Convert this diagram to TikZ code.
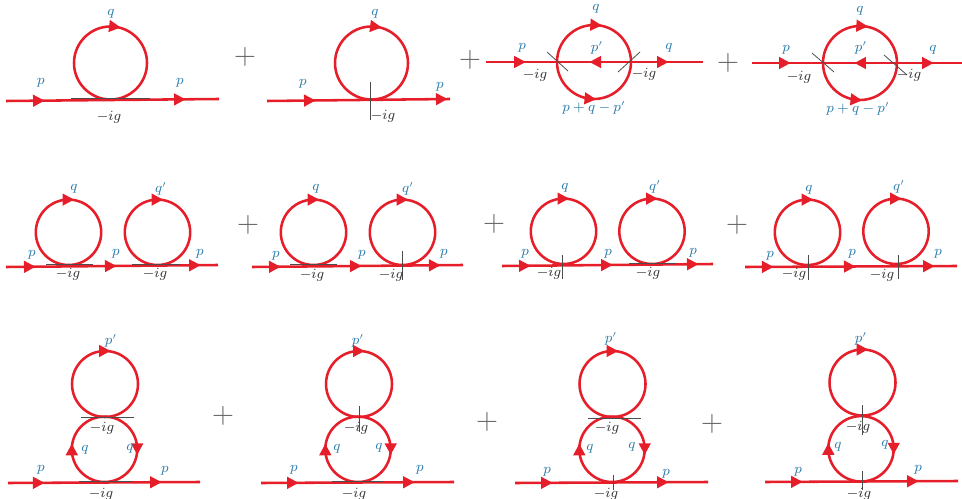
\documentclass[tikz,border=0pt]{standalone}
\usepackage{amsmath}
\usetikzlibrary{arrows.meta, decorations.markings}
\definecolor{loopred}{RGB}{230,30,42}
\definecolor{mombl}{RGB}{44,124,170}

\begin{document}
\begin{tikzpicture}[
    x=0.02cm,
    y=-0.02cm,
    fermion/.style={
        draw=loopred,
        line width=1.45pt
    },
    flow/.style={
        postaction={
            decorate,
            decoration={
                markings,
                mark=at position #1 with {\arrow[xshift=3.2pt,loopred]{Triangle[length=6.6pt,width=6.6pt]}}
            }
        }
    },
    vertexbar/.style={
        draw=black!70,
        line width=0.45pt
    },
    mom/.style={
        text=mombl,
        font=\fontsize{7.6}{9}\selectfont,
        inner sep=0pt
    },
    coupling/.style={
        text=black!80,
        font=\fontsize{7.6}{9}\selectfont,
        inner sep=0pt
    },
    plussign/.style={
        text=black!60,
        font=\fontsize{16}{16}\selectfont,
        inner sep=0pt
    }
]

\useasboundingbox (0,0) rectangle (962,499);

% first row
\coordinate (in1) at (6,101);
\coordinate (out1) at (219,99);
\coordinate (v1) at (110.5,99.5);
\draw[fermion, flow=.155, flow=.817] (in1) -- (out1);
\draw[fermion, flow=.52] (v1) arc[start angle=90, delta angle=360, radius=36.5];

\coordinate (in2) at (267,101);
\coordinate (out2) at (450,99);
\coordinate (v2) at (371.5,99.5);
\draw[fermion, flow=.235, flow=.956] (in2) -- (out2);
\draw[fermion, flow=.52] (v2) arc[start angle=90, delta angle=360, radius=36.5];

\coordinate (in3) at (486,62);
\coordinate (out3) at (703,62);
\coordinate (l3) at (557,62);
\coordinate (r3) at (631,62);
\draw[fermion, flow=.48] (in3) -- (l3);
\draw[fermion, flow=.486] (r3) -- (l3);
\draw[fermion, flow=.444] (r3) -- (out3);
\draw[fermion, flow=.52] (l3) arc[start angle=180, delta angle=180, radius=37];
\draw[fermion, flow=.47] (l3) arc[start angle=180, delta angle=-180, radius=37];

\coordinate (in4) at (752,63);
\coordinate (out4) at (962,63);
\coordinate (l4) at (823,63);
\coordinate (r4) at (897,63);
\draw[fermion, flow=.465] (in4) -- (l4);
\draw[fermion, flow=.5] (r4) -- (l4);
\draw[fermion, flow=.477] (r4) -- (out4);
\draw[fermion, flow=.52] (l4) arc[start angle=180, delta angle=180, radius=37];
\draw[fermion, flow=.47] (l4) arc[start angle=180, delta angle=-180, radius=37];

% second row
\coordinate (in5) at (6,267);
\coordinate (out5) at (218,265);
\coordinate (v5a) at (68.5,265);
\coordinate (v5b) at (157.5,265);
\draw[fermion, flow=.113, flow=.495, flow=.892] (in5) -- (out5);
\draw[fermion, flow=.5] (v5a) arc[start angle=90, delta angle=360, radius=32.7];
\draw[fermion, flow=.5] (v5b) arc[start angle=90, delta angle=360, radius=32.7];

\coordinate (in6) at (252,267);
\coordinate (out6) at (463,265);
\coordinate (v6a) at (313.5,265);
\coordinate (v6b) at (402.5,265);
\draw[fermion, flow=.109, flow=.493, flow=.867] (in6) -- (out6);
\draw[fermion, flow=.5] (v6a) arc[start angle=90, delta angle=360, radius=32.7];
\draw[fermion, flow=.5] (v6b) arc[start angle=90, delta angle=360, radius=32.7];

\coordinate (in7) at (502,266);
\coordinate (out7) at (713,264);
\coordinate (v7a) at (563.5,264);
\coordinate (v7b) at (652,264);
\draw[fermion, flow=.109, flow=.498, flow=.905] (in7) -- (out7);
\draw[fermion, flow=.5] (v7a) arc[start angle=90, delta angle=360, radius=32.7];
\draw[fermion, flow=.5] (v7b) arc[start angle=90, delta angle=360, radius=32.7];

\coordinate (in8) at (745,267);
\coordinate (out8) at (957,266);
\coordinate (v8a) at (807.5,265);
\coordinate (v8b) at (896,264);
\draw[fermion, flow=.108, flow=.495, flow=.868] (in8) -- (out8);
\draw[fermion, flow=.5] (v8a) arc[start angle=90, delta angle=360, radius=32.7];
\draw[fermion, flow=.5] (v8b) arc[start angle=90, delta angle=360, radius=32.7];

% third row
\coordinate (in9) at (8,483);
\coordinate (out9) at (200,482);
\coordinate (v9a) at (104.5,482);
\coordinate (v9b) at (105,417);
\draw[fermion, flow=.161, flow=.771] (in9) -- (out9);
\draw[fermion, flow=.25, flow=.75] (v9a) arc[start angle=90, delta angle=360, radius=32.7];
\draw[fermion, flow=.5] (v9b) arc[start angle=90, delta angle=360, radius=33];

\coordinate (in10) at (261,483);
\coordinate (out10) at (454,482);
\coordinate (v10a) at (358,482);
\coordinate (v10b) at (359,417);
\draw[fermion, flow=.166, flow=.767] (in10) -- (out10);
\draw[fermion, flow=.25, flow=.75] (v10a) arc[start angle=90, delta angle=360, radius=32.7];
\draw[fermion, flow=.5] (v10b) arc[start angle=90, delta angle=360, radius=33];

\coordinate (in11) at (515,483);
\coordinate (out11) at (708,482);
\coordinate (v11a) at (612,482);
\coordinate (v11b) at (612.5,417);
\draw[fermion, flow=.166, flow=.767] (in11) -- (out11);
\draw[fermion, flow=.25, flow=.75] (v11a) arc[start angle=90, delta angle=360, radius=32.7];
\draw[fermion, flow=.5] (v11b) arc[start angle=90, delta angle=360, radius=33];

\coordinate (in12) at (765,482);
\coordinate (out12) at (958,481);
\coordinate (v12a) at (861,481.5);
\coordinate (v12b) at (862.5,415.5);
\draw[fermion, flow=.166, flow=.767] (in12) -- (out12);
\draw[fermion, flow=.25, flow=.75] (v12a) arc[start angle=90, delta angle=360, radius=32.7];
\draw[fermion, flow=.5] (v12b) arc[start angle=90, delta angle=360, radius=33];

% vertex bars and ticks
\foreach \tick/\xa/\ya/\xb/\yb in {
    t1/71/98/150/98, t2/370/82/370/120,
    t3a/547/52/568/71, t3b/640/52/618/72, t4a/812/53/834/72, t4b/884/55/907/75,
    t5a/46/264/93/264, t5b/132/264/180/264,
    t6a/290/264/337/264, t6b/402/251/402/280,
    t7a/562/255/562/279, t7b/629/263/676/263,
    t8a/808/255/808/280, t8b/898/255/898/279,
    t9a/81/417/134/417, t9b/79/481/132/481,
    t10a/359/406/359/432, t10b/332/481/383/481,
    t11a/588/418/641/418, t11b/613/475/613/490,
    t12a/862/405/862/435, t12b/862/471/862/490} {
    \coordinate (\tick s) at (\xa,\ya);
    \coordinate (\tick e) at (\xb,\yb);
    \draw[vertexbar] (\tick s) -- (\tick e);
}

% momenta
\foreach \lab/\x/\y/\txt in {
    m1/111/14/{$q$}, m2/41/83/{$p$}, m3/180/83/{$p$},
    m4/375/14/{$q$}, m5/303/84/{$p$}, m6/440/87/{$p$},
    m7/596/9/{$q$}, m8/522/48/{$p$}, m9/597/48/{$p'$}, m10/669/48/{$q$}, m11/594/108/{$p+q-p'$},
    m12/860/11/{$q$}, m13/786/50/{$p$}, m14/861/48/{$p'$}, m15/933/50/{$q$}, m16/858/109/{$p+q-p'$},
    m17/74/189/{$q$}, m18/161/189/{$q'$}, m19/32/255/{$p$}, m20/116/254/{$p$}, m21/200/254/{$p$},
    m22/316/189/{$q$}, m23/408/189/{$q'$}, m24/276/256/{$p$}, m25/362/255/{$p$}, m26/444/254/{$p$},
    m27/565/188/{$q$}, m28/655/187/{$q'$}, m29/525/254/{$p$}, m30/608/254/{$p$}, m31/693/253/{$p$},
    m32/809/190/{$q$}, m33/899/187/{$q'$}, m34/770/256/{$p$}, m35/852/254/{$p$}, m36/938/254/{$p$},
    m37/111/341/{$p'$}, m38/85/450/{$q$}, m39/130/449/{$q$}, m40/41/470/{$p$}, m41/165/471/{$p$},
    m42/358/341/{$p'$}, m43/337/449/{$q$}, m44/379/448/{$q$}, m45/294/470/{$p$}, m46/420/470/{$p$},
    m47/611/339/{$p'$}, m48/590/449/{$q$}, m49/632/447/{$q$}, m50/547/472/{$p$}, m51/666/474/{$p$},
    m52/861/339/{$p'$}, m53/838/447/{$q$}, m54/885/445/{$q$}, m55/798/472/{$p$}, m56/918/470/{$p$}} {
    \node[mom] (\lab) at (\x,\y) {\txt};
}

% couplings
\foreach \lab/\x/\y in {
    g1/109/117, g2/383/116, g3/535/75, g4/644/74, g5/799/77, g6/909/75,
    g7/68/274, g8/155/274, g9/312/275, g10/391/275,
    g11/549/273, g12/648/273, g13/794/274, g14/882/275,
    g15/102/428, g16/101/494, g17/356/428, g18/354/494,
    g19/607/428, g20/606/494, g21/858/427, g22/859/494} {
    \node[coupling] (\lab) at (\x,\y) {$-ig$};
}

% plus signs
\foreach \lab/\x/\y in {
    s1/245/57, s2/470/60, s3/728/63,
    s4/248/225, s5/494/224, s6/737/225,
    s7/223/416, s8/487/422, s9/712/424} {
    \node[plussign] (\lab) at (\x,\y) {$+$};
}

\end{tikzpicture}
\end{document}
